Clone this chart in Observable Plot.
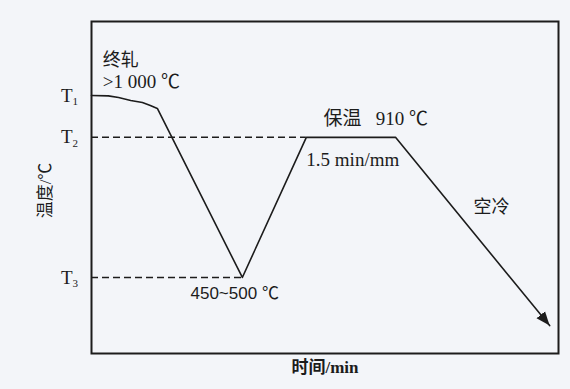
<!DOCTYPE html>
<html><head><meta charset="utf-8">
<script src="https://cdn.jsdelivr.net/npm/d3@7"></script>
<script src="https://cdn.jsdelivr.net/npm/@observablehq/plot@0.6"></script>
<style>html,body{margin:0;padding:0;background:#f3f5f9;}</style>
</head><body><div id="chart"></div>
<script>
// Schematic heat-treatment curve (arbitrary units)
const time = [0, 3.6, 5.8, 8.4, 10.9, 12.6, 14.1, 32.3, 46.0, 65.1, 98.1];
const temp = [77.7, 77.6, 77.1, 76.2, 75.6, 74.7, 73.8, 22.9, 65.1, 65.1, 8.4];

// Temperature levels T1, T2, T3
const levelSub = ["1", "2", "3"];
const levelTemp = [77.7, 65.1, 22.9];
// dashed guides: T2 up to the heating line, T3 up to the trough
const guideTemp = [65.1, 22.9];
const guideEnd = [46.0, 32.3];

// annotations
const cjkText = ["终轧", "空冷"];
const cjkTime = [2.4, 81.8];
const cjkTemp = [88.3, 44.0];
const serifText = [">1 000 ℃", "保温\u00a0\u00a0\u00a0910 ℃", "1.5 min/mm"];
const serifTime = [2.4, 49.7, 46.0];
const serifTemp = [81.9, 70.8, 58.4];
const sansText = ["450~500 ℃"];
const sansTime = [21.2];
const sansTemp = [18.1];

const xLabel = "时间/min";
const yLabel = "温度/℃";

const curve = time.map((t, i) => ({t, v: temp[i]}));
const levels = levelSub.map((s, i) => ({s, v: levelTemp[i]}));
const guides = guideTemp.map((v, i) => ({v, e: guideEnd[i]}));
const mk = (txt, xs, ys) => txt.map((s, i) => ({s, t: xs[i], v: ys[i]}));

const ink = "#1c1c1c";
const serif = "'Liberation Serif', 'Noto Sans CJK SC', serif";
const cjk = "'Noto Sans CJK SC', 'Liberation Serif', sans-serif";

const arrowHead = (color, context) => {
  const m = d3.create("svg:marker")
    .attr("viewBox", "-14 -6 14 12")
    .attr("markerWidth", 14).attr("markerHeight", 12)
    .attr("markerUnits", "userSpaceOnUse")
    .attr("refX", 0).attr("refY", 0)
    .attr("orient", "auto");
  m.append("path").attr("d", "M-14,-5.5L0,0L-14,5.5Z").attr("fill", color).attr("stroke", "none");
  return m.node();
};

const chart = Plot.plot({
  width: 570, height: 389,
  marginLeft: 91, marginRight: 12, marginTop: 21, marginBottom: 36,
  x: {domain: [0, 100], axis: null},
  y: {domain: [0, 100], axis: null},
  style: {background: "#f3f5f9", color: ink, overflow: "visible"},
  marks: [
    Plot.frame({stroke: ink, strokeWidth: 2}),
    Plot.ruleY(guides, {y: "v", x1: 0, x2: "e", stroke: ink, strokeWidth: 1.5, strokeDasharray: "7,4"}),
    Plot.line(curve, {x: "t", y: "v", stroke: ink, strokeWidth: 1.6, markerEnd: arrowHead}),
    Plot.text(levels, {x: 0, y: "v", text: () => "T", dx: -19, textAnchor: "end", fontFamily: serif, fontSize: 19, fill: ink}),
    Plot.text(levels, {x: 0, y: "v", text: "s", dx: -19, dy: 6, textAnchor: "start", fontFamily: serif, fontSize: 11, fill: ink}),
    Plot.text(mk(cjkText, cjkTime, cjkTemp), {x: "t", y: "v", text: "s", textAnchor: "start", fontFamily: cjk, fontSize: 18, fill: ink}),
    Plot.text(mk(serifText, serifTime, serifTemp), {x: "t", y: "v", text: "s", textAnchor: "start", fontFamily: serif, fontSize: 19, fill: ink}),
    Plot.text(mk(sansText, sansTime, sansTemp), {x: "t", y: "v", text: "s", textAnchor: "start", fontFamily: "'Liberation Sans', 'Noto Sans CJK SC', sans-serif", fontSize: 17, fill: ink}),
    Plot.text([xLabel], {frameAnchor: "bottom", dy: 19, text: d => d, fontFamily: serif, fontWeight: "bold", fontSize: 17, fill: ink}),
    Plot.text([yLabel], {frameAnchor: "left", textAnchor: "middle", dx: -46, dy: 3, rotate: -90, text: d => d, fontFamily: serif, fontSize: 17, fill: ink})
  ]
});
document.getElementById("chart").append(chart);
</script>
</body></html>
